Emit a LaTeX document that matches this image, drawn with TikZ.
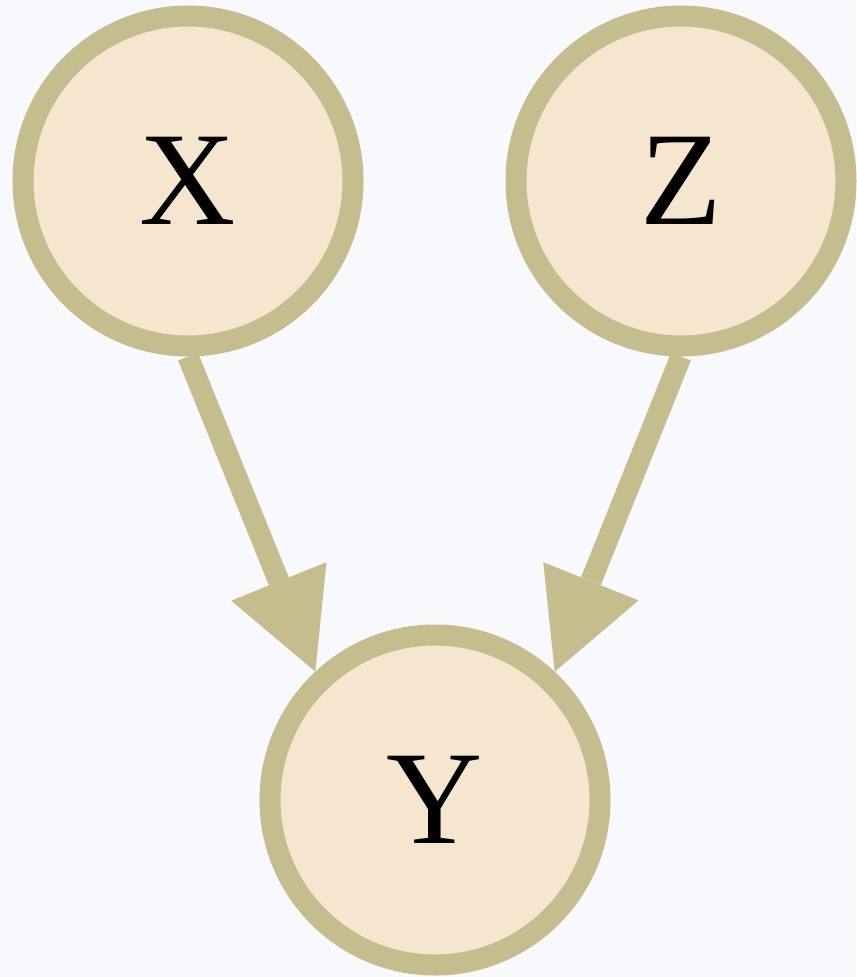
\documentclass[tikz,border=0pt]{standalone}
\usepackage{fontspec}
\setmainfont{Liberation Serif}
\usetikzlibrary{arrows.meta}
\definecolor{bgc}{HTML}{F7F9FC}
\definecolor{edgec}{HTML}{C5BD8E}
\definecolor{fillc}{HTML}{F6E6CF}
\tikzset{
  var/.style={circle, draw=edgec, fill=fillc, line width=15.75pt,
    minimum size=247.5pt, inner sep=0pt, font=\fontsize{100}{120}\selectfont},
  edge/.style={draw=edgec, line width=16pt,
    -{Triangle[length=73pt,width=77pt,line width=0pt]}}
}
\begin{document}
\begin{tikzpicture}[x=0.75pt,y=-0.75pt]
\fill[bgc] (0,0) rectangle (856,977);
\useasboundingbox (0,0) rectangle (856,977);
\node[var] (X) at (188,181) {X};
\node[var] (Z) at (681,181) {Z};
\node[var] (Y) at (435,800) {Y};
\draw[edge] (X.south) -- (Y.133);
\draw[edge] (Z.south) -- (Y.47);
\end{tikzpicture}
\end{document}
